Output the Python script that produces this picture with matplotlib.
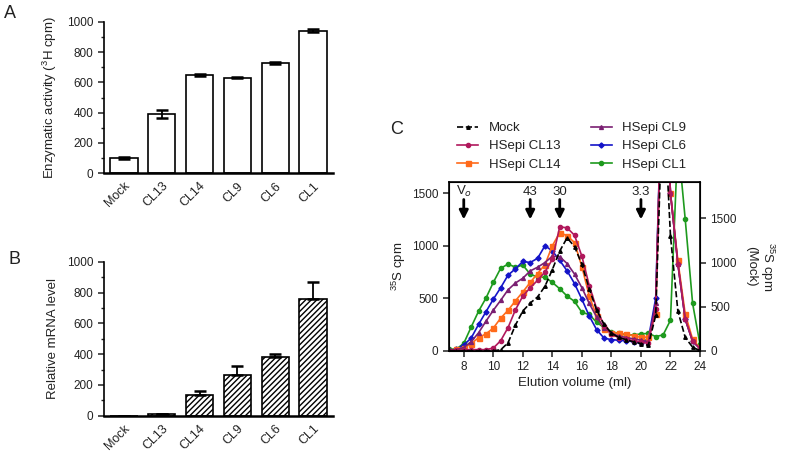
import matplotlib
matplotlib.use('Agg')
import matplotlib.pyplot as plt
from matplotlib.ticker import MultipleLocator

plt.rcParams['font.family'] = ['Liberation Sans', 'DejaVu Sans']
plt.rcParams['mathtext.fontset'] = 'custom'
plt.rcParams['mathtext.rm'] = 'Liberation Sans'
plt.rcParams['text.color'] = '#222222'
plt.rcParams['axes.labelcolor'] = '#222222'
plt.rcParams['xtick.color'] = '#222222'
plt.rcParams['ytick.color'] = '#222222'
plt.rcParams['hatch.linewidth'] = 1.0

# panel A / B data
clones = ['Mock', 'CL13', 'CL14', 'CL9', 'CL6', 'CL1']
enzyme = [100, 390, 648, 632, 728, 942]
enzyme_err = [5, 25, 5, 5, 8, 10]
mrna = [1, 8, 135, 265, 383, 760]
mrna_err = [0, 3, 25, 58, 18, 108]

# panel C data (elution profiles)
volume = [7.0, 7.5, 8.0, 8.5, 9.0, 9.5, 10.0, 10.5, 11.0, 11.5, 12.0, 12.5,
          13.0, 13.5, 14.0, 14.5, 15.0, 15.5, 16.0, 16.5, 17.0, 17.5, 18.0,
          18.5, 19.0, 19.5, 20.0, 20.5, 21.0, 21.5, 22.0, 22.5, 23.0, 23.5, 24.0]
cl1 = [15, 15, 70, 225, 375, 500, 650, 785, 825, 795, 815, 730, 700, 700, 650,
       590, 520, 470, 365, 345, 270, 220, 180, 165, 150, 150, 160, 165, 135,
       150, 290, 2000, 1250, 450, 60]
cl6 = [5, 12, 55, 120, 250, 370, 490, 600, 720, 780, 850, 840, 880, 1000, 950,
       860, 760, 640, 490, 330, 200, 120, 105, 100, 95, 85, 75, 110, 500, 3000,
       1500, 830, 300, 90, 20]
cl9 = [5, 10, 30, 85, 170, 280, 385, 480, 580, 645, 690, 760, 795, 840, 900,
       895, 830, 730, 600, 450, 320, 220, 165, 140, 125, 113, 100, 85, 450,
       3000, 1500, 830, 300, 90, 20]
cl14 = [0, 12, 30, 65, 125, 160, 215, 310, 385, 475, 560, 650, 735, 820, 1000,
        1125, 1095, 1030, 800, 520, 330, 210, 172, 165, 158, 142, 127, 130, 350,
        3000, 1500, 860, 350, 110, 25]
cl13 = [0, 5, 8, 10, 10, 10, 25, 95, 220, 390, 520, 600, 670, 750, 870, 1180,
        1170, 1100, 900, 620, 400, 240, 155, 125, 110, 95, 82, 70, 400, 3000,
        1500, 830, 300, 90, 20]
mock = [0, 0, 0, 0, 0, 0, 0, 10, 90, 290, 450, 540, 610, 730, 920, 1130, 1280,
        1180, 980, 700, 460, 300, 200, 150, 125, 100, 80, 60, 400, 3000, 1300,
        450, 150, 40, 0]

standards = [8.0, 12.5, 14.5, 20.0]
standard_labels = ['V$_o$', '43', '30', '3.3']

fig = plt.figure(figsize=(7.87, 4.57), dpi=100)


def bar_axes(ax, values, err, lower, hatch):
    pos = list(range(len(clones)))
    ax.bar(pos, values, width=0.72, color='white', edgecolor='black',
           linewidth=1.2, hatch=hatch, zorder=2)
    ax.errorbar(pos, values, yerr=[lower, err], fmt='none', ecolor='black',
                elinewidth=1.3, capsize=4, capthick=1.8, zorder=3)
    ax.set_xlim(-0.53, 5.53)
    ax.set_ylim(0, 1000)
    ax.set_yticks([0, 200, 400, 600, 800, 1000])
    ax.yaxis.set_minor_locator(MultipleLocator(100))
    ax.set_xticks(pos)
    ax.set_xticklabels(clones, rotation=45, ha='right', rotation_mode='anchor',
                       fontsize=9)
    ax.tick_params(axis='x', length=0, pad=5)
    ax.tick_params(axis='y', labelsize=8.5, length=4, width=1.1)
    ax.tick_params(axis='y', which='minor', length=2.5, width=1.0)
    for s in ['top', 'right']:
        ax.spines[s].set_visible(False)
    ax.spines['left'].set_linewidth(1.2)
    ax.spines['bottom'].set_linewidth(1.8)


axA = fig.add_axes([104 / 787, 0.6214, 229 / 787, 0.3305])
bar_axes(axA, enzyme, enzyme_err, enzyme_err, None)
axA.set_ylabel('Enzymatic activity ($^{3}$H cpm)', fontsize=9.5, labelpad=6)

axB = fig.add_axes([104 / 787, 0.0904, 229 / 787, 0.3364])
bar_axes(axB, mrna, mrna_err, [0] * len(mrna), '//////')
axB.set_ylabel('Relative mRNA level', fontsize=9.5, labelpad=6)

fig.text(10 / 787, 1 - 14 / 457, 'A', fontsize=13, ha='center', va='center')
fig.text(15 / 787, 1 - 260 / 457, 'B', fontsize=13, ha='center', va='center')
fig.text(397 / 787, 1 - 130 / 457, 'C', fontsize=13, ha='center', va='center')

# panel C
axC = fig.add_axes([449 / 787, 0.2326, 251 / 787, 0.3692])
series = [
    (cl1, 'HSepi CL1', '#1e9a1e', 'o', 3.0),
    (cl6, 'HSepi CL6', '#1414c8', 'D', 2.6),
    (cl14, 'HSepi CL14', '#ff6a1a', 's', 3.6),
    (cl9, 'HSepi CL9', '#7a1f72', '^', 2.8),
    (cl13, 'HSepi CL13', '#b0185c', 'o', 3.0),
]
handles = {}
for vals, name, col, mk, ms in series:
    h, = axC.plot(volume, vals, color=col, marker=mk, markersize=ms, lw=1.2,
                  label=name)
    handles[name] = h
axC.set_xlim(7, 24)
axC.set_ylim(0, 1607)
axC.set_xticks(range(8, 25, 2))
axC.set_yticks([0, 500, 1000, 1500])
axC.tick_params(labelsize=8.5, length=4, width=1.1)
for s in axC.spines.values():
    s.set_linewidth(1.2)
axC.set_xlabel('Elution volume (ml)', fontsize=9.5, labelpad=3)
axC.set_ylabel('$^{35}$S cpm', fontsize=9.5, labelpad=3)

for xv, lab in zip(standards, standard_labels):
    axC.annotate('', xy=(xv, 1250), xytext=(xv, 1440),
                 arrowprops=dict(arrowstyle='-|>', color='black', lw=2.0,
                                 mutation_scale=13, shrinkA=0, shrinkB=0))
    axC.text(xv, 1515, lab, ha='center', va='center', fontsize=9.5)

ax2 = axC.twinx()
hm, = ax2.plot(volume, mock, color='black', ls='--', marker='^', markersize=2.5,
               lw=1.2, label='Mock')
ax2.set_ylim(0, 1913)
ax2.set_yticks([0, 500, 1000, 1500])
ax2.tick_params(labelsize=8.5, length=4, width=1.1)
ax2.set_ylabel('$^{35}$S cpm\n(Mock)', fontsize=9.5, rotation=270,
               labelpad=28, linespacing=1.1)

order = [hm, handles['HSepi CL13'], handles['HSepi CL14'],
         handles['HSepi CL9'], handles['HSepi CL6'], handles['HSepi CL1']]
fig.legend(handles=order, labels=[h.get_label() for h in order], ncol=2,
           loc='upper left', bbox_to_anchor=(457 / 787, 1 - 122 / 457),
           frameon=False, fontsize=9.5, handlelength=1.6, handletextpad=0.8,
           columnspacing=2.3, labelspacing=0.45, borderaxespad=0,
           borderpad=0)

fig.savefig('out.png', dpi=100)
